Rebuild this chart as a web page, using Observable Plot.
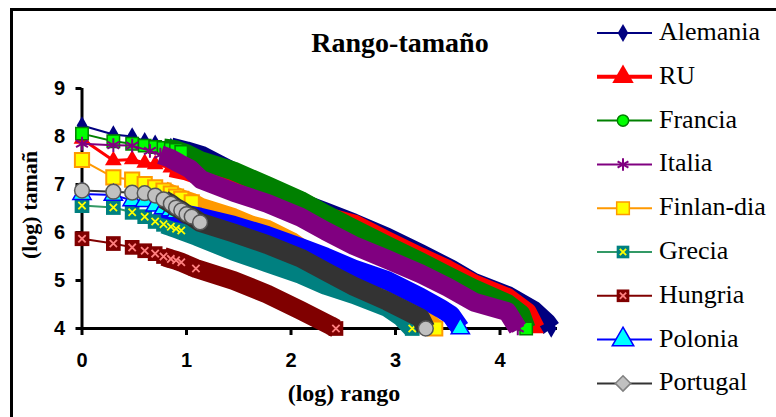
<!DOCTYPE html>
<html><head><meta charset="utf-8">
<script src="https://cdn.jsdelivr.net/npm/d3@7"></script>
<script src="https://cdn.jsdelivr.net/npm/@observablehq/plot@0.6"></script>
<style>
html,body{margin:0;padding:0;background:#fff;overflow:hidden;width:776px;height:417px}
#wrap{position:relative;width:776px;height:417px;overflow:hidden;background:#fff}
#frame{position:absolute;left:10px;top:8px;width:900px;height:600px;border-left:3px solid #000;border-top:3px solid #000;box-sizing:border-box}
#chart{position:absolute;left:0;top:0}
#over{position:absolute;left:0;top:0;pointer-events:none}
[aria-label^="x-axis"] line,[aria-label^="x-axis"] path,[aria-label^="y-axis"] line,[aria-label^="y-axis"] path{stroke:#000;stroke-width:3px}
</style>
</head><body>
<div id="wrap"><div id="frame"></div><div id="chart"></div><svg id="over" width="776" height="417"></svg></div>
<script>
// ---- data (x = log rango, y = log tamaño) ----
const countries = ["Alemania","RU","Francia","Italia","Finlan-dia","Grecia","Hungria","Polonia","Portugal"];
const xTicks = [0,1,2,3,4];
const yTicks = [4,5,6,7,8,9];
const alemania = [[0,8.23],[0.30,8.04],[0.48,8.0],[0.60,7.9],[0.70,7.85],[0.85,7.78],[1.0,7.7],[1.15,7.6],[1.45,7.26],[1.77,6.94],[2.09,6.63],[2.33,6.43],[2.6,6.2],[2.92,5.9],[3.24,5.56],[3.53,5.24],[3.75,4.96],[4.07,4.69],[4.32,4.38],[4.45,4.12],[4.49,4.0]];
const ru = [[0,7.95],[0.30,7.5],[0.48,7.52],[0.60,7.45],[0.70,7.42],[0.85,7.35],[1.0,7.28],[1.13,7.18],[1.45,6.98],[1.77,6.74],[2.25,6.38],[2.6,6.18],[2.92,5.83],[3.24,5.49],[3.5,5.23],[3.75,4.93],[4.07,4.65],[4.26,4.34],[4.34,4.0]];
const francia = [[0,8.06],[0.30,7.9],[0.48,7.85],[0.60,7.81],[0.70,7.78],[0.78,7.76],[0.85,7.74],[0.90,7.72],[0.95,7.68],[1.0,7.64],[1.13,7.5],[1.45,7.28],[1.77,6.98],[2.09,6.67],[2.33,6.38],[2.6,6.08],[2.92,5.73],[3.24,5.39],[3.5,5.1],[3.75,4.83],[4.07,4.52],[4.2,4.3],[4.25,4.0]];
const italia = [[0,7.85],[0.30,7.82],[0.48,7.81],[0.65,7.7],[0.75,7.62],[0.84,7.55],[0.93,7.44],[1.03,7.33],[1.14,7.1],[1.45,6.84],[1.77,6.61],[2.09,6.32],[2.33,6.03],[2.6,5.73],[2.92,5.44],[3.24,5.14],[3.5,4.86],[3.75,4.55],[4.07,4.35],[4.17,4.0]];
const finlandia = [[0,7.51],[0.30,7.15],[0.48,7.1],[0.60,7.01],[0.70,6.94],[0.78,6.875],[0.85,6.81],[0.90,6.75],[0.95,6.7],[1.05,6.63],[1.13,6.53],[1.45,6.31],[1.61,6.16],[1.77,6.07],[2.0,5.82],[2.45,5.13],[2.6,4.95],[2.92,4.64],[3.24,4.29],[3.38,4.0]];
const grecia = [[0,6.56],[0.30,6.52],[0.48,6.42],[0.60,6.33],[0.70,6.23],[0.78,6.17],[0.85,6.12],[0.90,6.08],[0.95,6.04],[1.1,5.92],[1.45,5.61],[1.77,5.37],[2.09,5.13],[2.33,4.9],[2.6,4.71],[2.92,4.44],[3.05,4.25],[3.16,4.0]];
const hungria = [[0,5.87],[0.30,5.77],[0.48,5.69],[0.60,5.62],[0.70,5.56],[0.78,5.5],[0.85,5.45],[0.90,5.42],[0.95,5.38],[1.09,5.25],[1.45,5.0],[1.77,4.72],[2.09,4.38],[2.38,4.06],[2.43,4.0]];
const polonia = [[0,6.8],[0.30,6.78],[0.48,6.67],[0.60,6.65],[0.70,6.56],[0.78,6.5],[0.85,6.46],[0.90,6.42],[1.13,6.32],[1.45,6.15],[1.77,5.94],[2.09,5.69],[2.33,5.49],[2.6,5.24],[2.92,5.0],[3.24,4.65],[3.43,4.42],[3.53,4.28],[3.62,4.0]];
const portugal = [[0,6.875],[0.30,6.85],[0.48,6.83],[0.60,6.82],[0.70,6.77],[0.78,6.69],[0.85,6.6],[0.90,6.52],[0.95,6.46],[1.0,6.38],[1.05,6.33],[1.13,6.21],[1.45,5.99],[1.77,5.75],[2.09,5.47],[2.38,5.13],[2.6,4.88],[2.92,4.57],[3.24,4.22],[3.29,4.0]];
const seriesData = [alemania, ru, francia, italia, finlandia, grecia, hungria, polonia, portugal];

// ---- styles ----
const styles = [
  {line:"#000080", lw:2, band:"#000080", symbol:"diamond", r:5.6, fill:"#000080", stroke:"none", sw:0, until:0.96},
  {line:"#FF0000", lw:3, band:"#FF0000", symbol:"triangle", r:6.2, fill:"#FF0000", stroke:"none", sw:0, until:0.96},
  {line:"#008000", lw:2, band:"#008000", symbol:"square", r:7, fill:"#00FF00", stroke:"#008000", sw:1.5, until:0.96},
  {line:"#800080", lw:2, band:"#800080", symbol:"asterisk", r:6.5, fill:"none", stroke:"#800080", sw:2, until:0.96},
  {line:"#FF9900", lw:2, band:"#FF9900", symbol:"square", r:8, fill:"#FFFF00", stroke:"#FF9900", sw:2, until:1.07},
  {line:"#339966", lw:2, band:"#008080", symbol:"square", r:8.3, fill:"#008080", stroke:"none", sw:0, inner:"#FFFF00", until:1.1},
  {line:"#800000", lw:2, band:"#800000", symbol:"square", r:8.3, fill:"#800000", stroke:"none", sw:0, inner:"#FF8080", until:1.1},
  {line:"#0000FF", lw:2, band:"#0000FF", symbol:"triangle", r:6.8, fill:"#00FFFF", stroke:"#0000FF", sw:1.5, until:0.96},
  {line:"#333333", lw:2, band:"#333333", symbol:"circle", r:7.4, fill:"#C0C0C0", stroke:"#555555", sw:1.5, until:1.14}
];
const legendSymbols = ["diamond","triangle","circle","asterisk","square","square","square","triangle","diamond2"];

const marks = [
  Plot.ruleY([4], {stroke:"#000", strokeWidth:3}),
  Plot.ruleX([0], {y1:4, y2:9, stroke:"#000", strokeWidth:3})
];
seriesData.forEach((arr, i) => {
  const s = styles[i];
  const pts = arr.map(([x, y]) => ({x, y, c: countries[i]}));
  marks.push(Plot.line(pts, {x:"x", y:"y", stroke:s.line, strokeWidth:s.lw}));
  marks.push(Plot.line(pts.filter(d => d.x >= 0.72), {x:"x", y:"y", stroke:s.band, strokeWidth:19, strokeLinejoin:"round", strokeLinecap:"butt"}));
  const mk = pts.filter((d, j) => d.x < s.until || j === pts.length - 1);
  marks.push(Plot.dot(mk, {x:"x", y:"y", symbol:s.symbol, r:s.r, fill:s.fill, stroke:s.stroke, strokeWidth:s.sw}));
  if (s.inner) marks.push(Plot.dot(mk, {x:"x", y:"y", symbol:"times", r:3.4, stroke:s.inner, strokeWidth:1.8}));
});

const chart = Plot.plot({
  width: 776, height: 417,
  marginLeft: 81.5, marginRight: 219, marginTop: 88, marginBottom: 89,
  x: {domain:[0, 4.55], ticks: xTicks, tickSize: 7, tickPadding: 17, tickFormat: d => String(d), label: null},
  y: {domain:[4, 9], ticks: yTicks, tickSize: 6, tickPadding: 11, tickFormat: d => String(d), label: null},
  style: {fontFamily:"'Liberation Sans', Arial, sans-serif", fontSize:"20px", fontWeight:"bold", background:"transparent", overflow:"visible", color:"#000"},
  marks
});
document.getElementById("chart").appendChild(chart);

// ---- titles and legend ----
const over = d3.select("#over");
const serif = "'Liberation Serif','Times New Roman',serif";
over.append("text").attr("x", 400).attr("y", 52).attr("text-anchor","middle")
  .attr("font-family", serif).attr("font-weight","bold").attr("font-size", 28).text("Rango-tamaño");
over.append("text").attr("x", 344).attr("y", 401).attr("text-anchor","middle")
  .attr("font-family", serif).attr("font-weight","bold").attr("font-size", 24).text("(log) rango");
over.append("text").attr("transform","translate(37,205) rotate(-90)").attr("text-anchor","middle")
  .attr("font-family", serif).attr("font-weight","bold").attr("font-size", 22).text("(log) tamañ");

const symMap = {diamond:d3.symbolDiamond, triangle:d3.symbolTriangle, circle:d3.symbolCircle, asterisk:d3.symbolAsterisk, square:d3.symbolSquare, diamond2:d3.symbolDiamond2, times:d3.symbolTimes};
const legSize = {diamond:95, triangle:200, circle:100, asterisk:110, square:160, diamond2:150};
countries.forEach((name, i) => {
  const s = styles[i];
  const cy = 33 + i * 43.8;
  const g = over.append("g");
  g.append("line").attr("x1", 597).attr("x2", 652).attr("y1", cy).attr("y2", cy)
    .attr("stroke", s.line).attr("stroke-width", s.lw === 3 ? 4 : 2);
  const sym = legendSymbols[i];
  g.append("path").attr("transform", `translate(623,${cy})`)
    .attr("d", d3.symbol(symMap[sym], legSize[sym])())
    .attr("fill", sym === "asterisk" ? "none" : (i === 8 ? "#C0C0C0" : s.fill))
    .attr("stroke", i === 8 ? "#808080" : (s.stroke === "none" ? "none" : s.stroke))
    .attr("stroke-width", sym === "asterisk" ? 2 : 1.5);
  if (s.inner) g.append("path").attr("transform", `translate(623,${cy})`)
    .attr("d", d3.symbol(d3.symbolTimes, 28)()).attr("stroke", s.inner).attr("stroke-width", 1.8).attr("fill","none");
  g.append("text").attr("x", 659).attr("y", cy + 7).attr("font-family", serif)
    .attr("font-size", 26).attr("fill","#000").text(name);
});
over.append("line").attr("x1", 10).attr("x2", 776).attr("y1", 9.5).attr("y2", 9.5).attr("stroke","#000").attr("stroke-width",3);
</script>
</body></html>
